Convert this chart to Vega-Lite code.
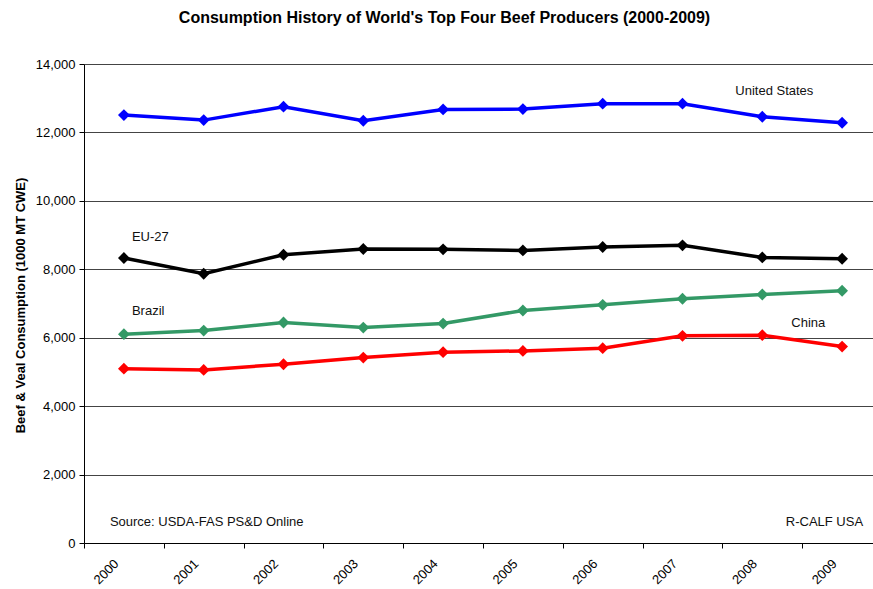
{
  "$schema": "https://vega.github.io/schema/vega-lite/v6.json",
  "autosize": {"type": "none"},
  "padding": {"left": 84, "top": 64, "right": 0, "bottom": 46},
  "width": 789,
  "height": 479,
  "background": "white",
  "config": {
    "font": "Liberation Sans",
    "view": {"stroke": null}
  },
  "title": {
    "text": "Consumption History of World's Top Four Beef Producers (2000-2009)",
    "font": "Liberation Sans",
    "fontSize": 16,
    "fontWeight": "bold",
    "color": "black",
    "anchor": "middle",
    "frame": "group",
    "dx": -34,
    "offset": 32
  },
  "datasets": {
    "series": [
      {"year": "2000", "country": "United States", "value": 12506},
      {"year": "2001", "country": "United States", "value": 12360},
      {"year": "2002", "country": "United States", "value": 12752},
      {"year": "2003", "country": "United States", "value": 12342},
      {"year": "2004", "country": "United States", "value": 12673},
      {"year": "2005", "country": "United States", "value": 12682},
      {"year": "2006", "country": "United States", "value": 12840},
      {"year": "2007", "country": "United States", "value": 12840},
      {"year": "2008", "country": "United States", "value": 12459},
      {"year": "2009", "country": "United States", "value": 12284},
      {"year": "2000", "country": "EU-27", "value": 8330},
      {"year": "2001", "country": "EU-27", "value": 7870},
      {"year": "2002", "country": "EU-27", "value": 8426},
      {"year": "2003", "country": "EU-27", "value": 8593},
      {"year": "2004", "country": "EU-27", "value": 8582},
      {"year": "2005", "country": "EU-27", "value": 8552},
      {"year": "2006", "country": "EU-27", "value": 8652},
      {"year": "2007", "country": "EU-27", "value": 8699},
      {"year": "2008", "country": "EU-27", "value": 8347},
      {"year": "2009", "country": "EU-27", "value": 8309},
      {"year": "2000", "country": "Brazil", "value": 6104},
      {"year": "2001", "country": "Brazil", "value": 6209},
      {"year": "2002", "country": "Brazil", "value": 6444},
      {"year": "2003", "country": "Brazil", "value": 6297},
      {"year": "2004", "country": "Brazil", "value": 6414},
      {"year": "2005", "country": "Brazil", "value": 6795},
      {"year": "2006", "country": "Brazil", "value": 6962},
      {"year": "2007", "country": "Brazil", "value": 7138},
      {"year": "2008", "country": "Brazil", "value": 7264},
      {"year": "2009", "country": "Brazil", "value": 7372},
      {"year": "2000", "country": "China", "value": 5096},
      {"year": "2001", "country": "China", "value": 5058},
      {"year": "2002", "country": "China", "value": 5225},
      {"year": "2003", "country": "China", "value": 5419},
      {"year": "2004", "country": "China", "value": 5577},
      {"year": "2005", "country": "China", "value": 5615},
      {"year": "2006", "country": "China", "value": 5694},
      {"year": "2007", "country": "China", "value": 6054},
      {"year": "2008", "country": "China", "value": 6075},
      {"year": "2009", "country": "China", "value": 5741}
    ]
  },
  "layer": [
    {
      "data": {"name": "series"},
      "mark": {"type": "line", "strokeWidth": 3.5, "point": {"shape": "diamond", "size": 140, "filled": true, "opacity": 1}},
      "encoding": {
        "x": {
          "field": "year", "type": "ordinal",
          "scale": {"type": "band", "range": [0, 798], "paddingInner": 0, "paddingOuter": 0},
          "axis": {
            "title": null,
            "labelAngle": -45,
            "labelFont": "Liberation Sans",
            "labelFontSize": 13,
            "labelColor": "black",
            "labelOffset": -12,
            "tickBand": "extent",
            "tickSize": 5,
            "tickColor": "black",
            "domainColor": "black",
            "labelPadding": 9,
            "grid": false
          }
        },
        "y": {
          "field": "value", "type": "quantitative",
          "scale": {"domain": [0, 14000], "nice": false},
          "axis": {
            "title": "Beef & Veal Consumption (1000 MT CWE)",
            "titleFont": "Liberation Sans",
            "titleFontSize": 13,
            "titleFontWeight": "bold",
            "titleColor": "black",
            "titleX": -64,
            "titleY": 241,
            "titleAngle": -90,
            "titleBaseline": "middle",
            "titleAlign": "center",
            "values": [0, 2000, 4000, 6000, 8000, 10000, 12000, 14000],
            "format": ",d",
            "labelFont": "Liberation Sans",
            "labelFontSize": 13,
            "labelColor": "black",
            "tickSize": 5,
            "tickColor": "black",
            "domainColor": "black",
            "labelPadding": 4,
            "grid": true,
            "gridColor": "#444444",
            "gridWidth": 1
          }
        },
        "color": {
          "field": "country", "type": "nominal",
          "scale": {"domain": ["United States", "EU-27", "Brazil", "China"], "range": ["#0000FF", "#000000", "#339966", "#FF0000"]},
          "legend": null
        },
        "detail": {"field": "country"}
      }
    },
    {
      "data": {"values": [
        {"year": "2000", "value": 8945, "label": "EU-27"},
        {"year": "2000", "value": 6795, "label": "Brazil"}
      ]},
      "mark": {"type": "text", "align": "left", "baseline": "middle", "dx": 8, "fontSize": 13, "font": "Liberation Sans", "color": "#111111"},
      "encoding": {"x": {"field": "year", "type": "ordinal"}, "y": {"field": "value", "type": "quantitative"}, "text": {"field": "label"}}
    },
    {
      "data": {"values": [{"year": "2008", "value": 13209, "label": "United States"}]},
      "mark": {"type": "text", "align": "left", "baseline": "middle", "dx": -27, "fontSize": 13, "font": "Liberation Sans", "color": "#111111"},
      "encoding": {"x": {"field": "year", "type": "ordinal"}, "y": {"field": "value", "type": "quantitative"}, "text": {"field": "label"}}
    },
    {
      "data": {"values": [{"year": "2008", "value": 6444, "label": "China"}]},
      "mark": {"type": "text", "align": "left", "baseline": "middle", "dx": 29, "fontSize": 13, "font": "Liberation Sans", "color": "#111111"},
      "encoding": {"x": {"field": "year", "type": "ordinal"}, "y": {"field": "value", "type": "quantitative"}, "text": {"field": "label"}}
    },
    {
      "data": {"values": [{"year": "2000", "value": 606, "label": "Source: USDA-FAS PS&D Online"}]},
      "mark": {"type": "text", "align": "left", "baseline": "middle", "dx": -14, "fontSize": 13, "font": "Liberation Sans", "color": "#111111"},
      "encoding": {"x": {"field": "year", "type": "ordinal"}, "y": {"field": "value", "type": "quantitative"}, "text": {"field": "label"}}
    },
    {
      "data": {"values": [{"year": "2009", "value": 606, "label": "R-CALF USA"}]},
      "mark": {"type": "text", "align": "right", "baseline": "middle", "dx": 21, "fontSize": 13, "font": "Liberation Sans", "color": "#111111"},
      "encoding": {"x": {"field": "year", "type": "ordinal"}, "y": {"field": "value", "type": "quantitative"}, "text": {"field": "label"}}
    }
  ]
}
